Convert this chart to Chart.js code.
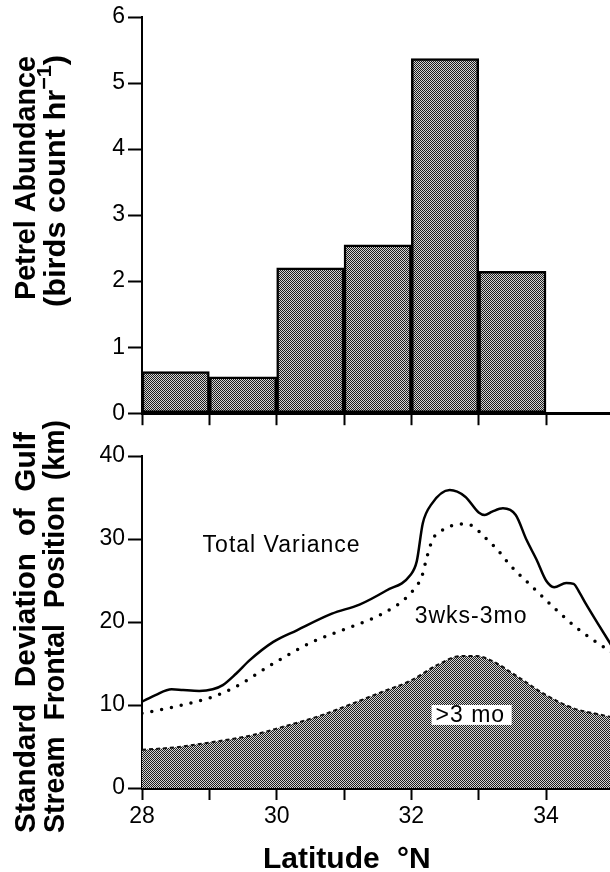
<!DOCTYPE html>
<html>
<head>
<meta charset="utf-8">
<script src="https://cdn.jsdelivr.net/npm/chart.js@4/dist/chart.umd.min.js"></script>
<style>
html, body { margin: 0; padding: 0; background: #fff; overflow: hidden; }
#wrap { position: relative; width: 610px; height: 872px; }
#top { position: absolute; left: 0; top: 0; }
#bottom { position: absolute; left: 0; top: 400px; }
</style>
</head>
<body>
<div id="wrap">
<canvas id="top" width="610" height="430"></canvas>
<canvas id="bottom" width="610" height="472"></canvas>
</div>
<script>
// datos del histograma (centro de cada banda de 1 grado)
var binCenters = [28.5, 29.5, 30.5, 31.5, 32.5, 33.5];
var petrelAbundance = [0.63, 0.55, 2.2, 2.55, 5.37, 2.15];

// varianza total (linea continua)
var totalLat = [28.0, 28.2, 28.44, 28.61, 28.85, 29.05, 29.2, 29.4, 29.6, 29.95, 30.3, 30.82, 31.23, 31.63, 31.98, 32.08, 32.17, 32.3, 32.57, 32.8, 33.0, 33.09, 33.2, 33.36, 33.55, 33.71, 33.86, 34.0, 34.12, 34.3, 34.41, 34.5, 34.59, 34.77, 35.0];
var totalSd = [10.4, 11.2, 11.9, 11.8, 11.7, 11.9, 12.4, 13.8, 15.4, 17.6, 19.0, 21.0, 22.1, 23.8, 25.6, 27.3, 31.9, 34.2, 35.9, 35.1, 33.2, 32.9, 33.3, 33.7, 32.9, 29.9, 27.5, 25.0, 24.2, 24.7, 24.6, 23.5, 22.2, 19.8, 16.8];

// 3 semanas - 3 meses (punteada)
var midLat = [28.0, 28.49, 29.02, 29.37, 29.95, 30.53, 31.1, 31.57, 31.98, 32.16, 32.23, 32.32, 32.45, 32.6, 32.75, 32.9, 33.09, 33.28, 33.46, 33.8, 34.16, 34.5, 34.87, 35.0];
var midSd = [9.0, 9.8, 10.9, 12.1, 15.0, 17.6, 19.4, 21.0, 23.4, 25.6, 27.8, 30.0, 31.0, 31.6, 31.8, 31.6, 30.2, 28.7, 26.9, 24.2, 21.4, 19.0, 16.9, 16.2];

// mas de 3 meses (area sombreada)
var longLat = [28.0, 28.49, 29.02, 29.6, 30.06, 30.64, 31.1, 31.57, 31.98, 32.38, 32.73, 32.97, 33.2, 33.6, 34.0, 34.41, 34.77, 35.0];
var longSd = [4.6, 4.9, 5.5, 6.3, 7.3, 8.7, 10.1, 11.6, 12.9, 14.8, 15.9, 15.9, 15.3, 13.3, 11.2, 9.6, 8.9, 8.5];

var xTicks = [28, 29, 30, 31, 32, 33, 34];

var FONT = "'Liberation Sans', Arial, Helvetica, sans-serif";

// patron de puntos tipo trama
function makePattern() {
    var c = document.createElement('canvas');
    c.width = 2; c.height = 2;
    var g = c.getContext('2d');
    g.fillStyle = '#d4d4d4';
    g.fillRect(0, 0, 2, 2);
    g.fillStyle = '#1c1c1c';
    g.fillRect(0, 0, 1, 1);
    g.fillRect(1, 1, 1, 1);
    return g.createPattern(c, 'repeat');
}
var shade = makePattern();

function toPoints(xs, ys) {
    return xs.map(function(x, i) { return { x: x, y: ys[i] }; });
}

// texto girado y ajustado a un largo dado
function drawRotated(ctx, parts, x, yStart, len) {
    ctx.save();
    ctx.translate(x, yStart);
    ctx.rotate(-Math.PI / 2);
    var total = 0;
    parts.forEach(function(p) { ctx.font = p.font; total += ctx.measureText(p.text).width; });
    ctx.scale(len / total, 1);
    var cx = 0;
    ctx.fillStyle = '#000';
    ctx.textBaseline = 'alphabetic';
    ctx.textAlign = 'left';
    parts.forEach(function(p) {
        ctx.font = p.font;
        ctx.fillText(p.text, cx, p.dy || 0);
        cx += ctx.measureText(p.text).width;
    });
    ctx.restore();
}

function xAxis(showLabels, height) {
    return {
        type: 'linear',
        min: 28,
        max: 34.95,
        offset: false,
        afterBuildTicks: function(axis) {
            axis.ticks = xTicks.map(function(v) { return { value: v }; });
        },
        afterFit: function(axis) { axis.height = height; },
        grid: { drawOnChartArea: false, offset: false, tickLength: 12, tickWidth: 2, tickColor: '#000' },
        border: { color: '#000', width: 3 },
        ticks: {
            display: showLabels,
            autoSkip: false,
            maxRotation: 0,
            padding: 3,
            color: '#000',
            font: { family: FONT, size: 23 },
            callback: function(v) { return v % 2 === 0 ? String(v) : ''; }
        }
    };
}

function yAxis(max, step) {
    return {
        min: 0,
        max: max,
        afterFit: function(axis) { axis.width = 142; },
        grid: { drawOnChartArea: false, tickLength: 14, tickWidth: 2, tickColor: '#000' },
        border: { color: '#000', width: 2 },
        ticks: {
            stepSize: step,
            padding: 3,
            color: '#000',
            font: { family: FONT, size: 23 }
        }
    };
}

var topTitle = {
    id: 'topTitle',
    afterDraw: function(chart) {
        var ctx = chart.ctx;
        var b = 'bold 30px ' + FONT;
        drawRotated(ctx, [{ text: 'Petrel Abundance', font: b }], 35, 300, 244);
        drawRotated(ctx, [
            { text: '(birds count hr', font: b },
            { text: '\u22121', font: 'bold 21px ' + FONT, dy: -14 },
            { text: ')', font: b }
        ], 65, 307, 252);
    }
};

var petrelChart = new Chart(document.getElementById('top'), {
    type: 'bar',
    data: {
        datasets: [{
            data: toPoints(binCenters, petrelAbundance),
            backgroundColor: shade,
            borderColor: '#000',
            borderWidth: 2.5,
            borderSkipped: false,
            barPercentage: 1,
            categoryPercentage: 1
        }]
    },
    options: {
        responsive: false,
        animation: false,
        layout: { padding: { top: 17, right: 0, left: 0, bottom: 0 } },
        plugins: { legend: { display: false }, tooltip: { enabled: false } },
        scales: {
            x: xAxis(false, 14),
            y: yAxis(6, 1)
        }
    },
    plugins: [topTitle]
});

// etiquetas dentro del grafico, en coordenadas de datos
var curveLabels = [
    { text: 'Total Variance', lat: 28.9, sd: 28.4 },
    { text: '3wks-3mo', lat: 32.05, sd: 19.9 },
    { text: '>3 mo', lat: 32.36, sd: 7.95, box: [32.3, 33.49, 10.0, 7.6] }
];

var bottomText = {
    id: 'bottomText',
    afterDraw: function(chart) {
        var ctx = chart.ctx;
        var xs = chart.scales.x, ys = chart.scales.y;
        ctx.save();
        curveLabels.forEach(function(l) {
            if (l.box) {
                var x0 = xs.getPixelForValue(l.box[0]), x1 = xs.getPixelForValue(l.box[1]);
                var y0 = ys.getPixelForValue(l.box[2]), y1 = ys.getPixelForValue(l.box[3]);
                ctx.fillStyle = '#fff';
                ctx.fillRect(x0, y0, x1 - x0, y1 - y0);
            }
            ctx.fillStyle = '#000';
            ctx.font = '23px ' + FONT;
            ctx.letterSpacing = '1px';
            ctx.textAlign = 'left';
            ctx.textBaseline = 'alphabetic';
            ctx.fillText(l.text, xs.getPixelForValue(l.lat), ys.getPixelForValue(l.sd));
        });
        ctx.letterSpacing = '0px';
        ctx.font = 'bold 30px ' + FONT;
        ctx.fillText('Latitude', 263, 468);
        ctx.fillText('\u00b0N', 397, 468);
        ctx.restore();

        var b = 'bold 30px ' + FONT;
        drawRotated(ctx, [{ text: 'Standard  Deviation  of  Gulf', font: b }], 35, 433, 401);
        drawRotated(ctx, [{ text: 'Stream  Frontal  Position  (km)', font: b }], 64, 433, 413);
    }
};

var gulfChart = new Chart(document.getElementById('bottom'), {
    type: 'line',
    data: {
        datasets: [
            {
                label: 'Total Variance',
                data: toPoints(totalLat, totalSd),
                borderColor: '#000',
                borderWidth: 2.5,
                pointRadius: 0,
                cubicInterpolationMode: 'monotone',
                fill: false,
                order: 1
            },
            {
                label: '3wks-3mo',
                data: toPoints(midLat, midSd),
                borderColor: '#000',
                borderWidth: 3.5,
                borderDash: [0, 10],
                borderCapStyle: 'round',
                pointRadius: 0,
                cubicInterpolationMode: 'monotone',
                fill: false,
                order: 2
            },
            {
                label: '>3 mo',
                data: toPoints(longLat, longSd),
                borderColor: '#111',
                borderWidth: 2,
                borderDash: [4, 3],
                backgroundColor: shade,
                pointRadius: 0,
                cubicInterpolationMode: 'monotone',
                fill: 'origin',
                order: 3
            }
        ]
    },
    options: {
        responsive: false,
        animation: false,
        layout: { padding: { top: 56, right: 0, left: 0, bottom: 0 } },
        plugins: { legend: { display: false }, tooltip: { enabled: false } },
        scales: {
            x: xAxis(true, 84),
            y: yAxis(40, 10)
        }
    },
    plugins: [bottomText]
});
</script>
</body>
</html>
